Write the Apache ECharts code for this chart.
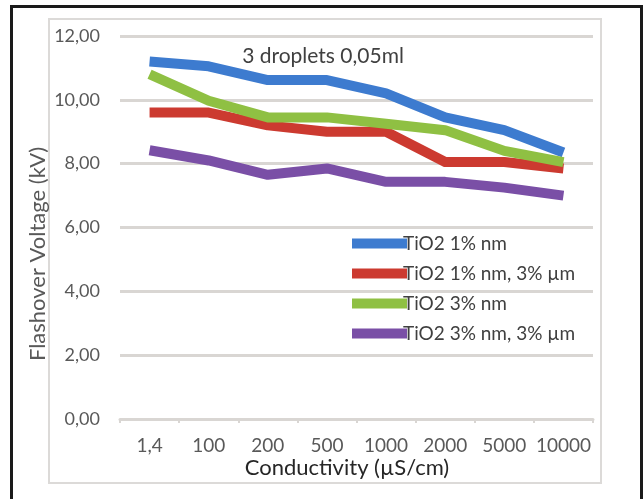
<!DOCTYPE html>
<html><head><meta charset="utf-8">
<script src="https://cdn.jsdelivr.net/npm/echarts@6/dist/echarts.min.js"></script>
<style>html,body{margin:0;padding:0;background:#fff}#c{width:644px;height:499px}</style>
</head><body><div id="c"></div>
<script>
var categories = ['1,4','100','200','500','1000','2000','5000','10000'];
var seriesNames = ['TiO2 1% nm','TiO2 1% nm, 3% µm','TiO2 3% nm','TiO2 3% nm, 3% µm'];
var tio2_1nm = [11.2, 11.05, 10.62, 10.62, 10.2, 9.45, 9.05, 8.35];
var tio2_1nm_3um = [9.6, 9.6, 9.2, 9.0, 9.0, 8.05, 8.05, 7.85];
var tio2_3nm = [10.8, 9.97, 9.45, 9.45, 9.25, 9.05, 8.4, 8.05];
var tio2_3nm_3um = [8.42, 8.1, 7.65, 7.85, 7.43, 7.43, 7.25, 7.0];
var yAxisTitle = 'Flashover Voltage (kV)';
var xAxisTitle = 'Conductivity (µS/cm)';
var chartNote = '3 droplets 0,05ml';
var colors = ['#3d7bcf','#cc3a30','#8fc043','#7a4fa6'];
var FONT = 'Lato';
var chart = echarts.init(document.getElementById('c'), null, {renderer:'canvas'});
var data = [tio2_1nm, tio2_1nm_3um, tio2_3nm, tio2_3nm_3um];
chart.setOption({
  animation:false,
  backgroundColor:'#fff',
  color: colors,
  textStyle:{fontFamily:FONT},
  graphic:[
    {type:'rect', shape:{x:11.5,y:6.5,width:630,height:520}, style:{fill:'none',stroke:'#1a1a1a',lineWidth:3}, z:-1},
    {type:'rect', shape:{x:49,y:19,width:552,height:464}, style:{fill:'#fff',stroke:'#dcdad8',lineWidth:2}, z:-2},
    {type:'text', x:347, y:468, style:{text:xAxisTitle,fill:'#262626',font:'22px '+FONT, textAlign:'center', textVerticalAlign:'middle'}},
    {type:'text', x:38, y:254, rotation:Math.PI/2, style:{text:yAxisTitle,fill:'#595959',font:'22px '+FONT, textAlign:'center', textVerticalAlign:'middle'}},
    {type:'text', x:323, y:56, style:{text:chartNote,fill:'#404040',font:'21px '+FONT, textAlign:'center', textVerticalAlign:'middle'}}
  ],
  grid:{left:120,right:51,top:36,bottom:80,containLabel:false},
  legend:{
    orient:'vertical', left:347, top:229,
    itemWidth:55, itemHeight:10, itemGap:11,
    icon:'rect',
    textStyle:{fontSize:19,color:'#404040',fontFamily:FONT,padding:[0,0,0,-9]},
    data:seriesNames
  },
  xAxis:{
    type:'category', data:categories, boundaryGap:true,
    axisLine:{lineStyle:{color:'#d9d6d3',width:3}},
    axisTick:{show:true,length:4,lineStyle:{color:'#d9d6d3',width:2}},
    axisLabel:{fontSize:19,color:'#595959',margin:17,fontFamily:FONT,interval:0}
  },
  yAxis:{
    type:'value', min:0, max:12, interval:2,
    axisLine:{show:false}, axisTick:{show:false},
    axisLabel:{fontSize:18,color:'#595959',margin:20,fontFamily:FONT,
      formatter:function(v){return v.toFixed(2).replace('.',',');}},
    splitLine:{lineStyle:{color:'#d9d6d3',width:3}}
  },
  series: seriesNames.map(function(n,i){
    return {name:n,type:'line',data:data[i],symbol:'none',
      lineStyle:{width:10,color:colors[i],join:'round'},itemStyle:{color:colors[i]}};
  })
});
</script></body></html>
